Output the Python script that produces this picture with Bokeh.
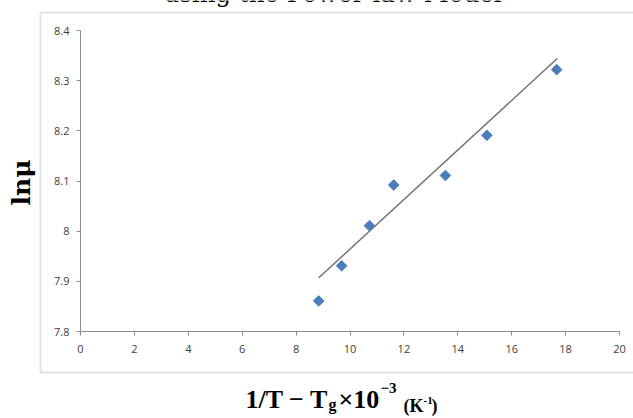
from bokeh.plotting import figure
from bokeh.models import Label, BoxAnnotation, FixedTicker, Range1d, LinearAxis
from bokeh.embed import file_html
from bokeh.resources import INLINE

# ---- data ----
x_vals = [8.84, 9.69, 10.72, 11.62, 13.54, 15.08, 17.67]
y_vals = [7.861, 7.931, 8.011, 8.092, 8.111, 8.191, 8.322]
trend_x = [8.84, 17.69]
trend_y = [7.907, 8.344]
x_ticks = [0, 2, 4, 6, 8, 10, 12, 14, 16, 18, 20]
y_ticks = [7.8, 7.9, 8.0, 8.1, 8.2, 8.3, 8.4]
y_tick_labels = ["7.8", "7.9", "8", "8.1", "8.2", "8.3", "8.4"]
title_text = "using the Power-law Model"
y_title = "lnμ"

# ---- layout (screen pixels of the axis box) ----
W, H = 633, 418
SX0, SX1 = 80, 619      # screen x of x=0 and x=20
SY1, SY0 = 30, 331      # screen y of y=8.4 and y=7.8
x0, x1 = 0, 20
y0, y1 = 7.8, 8.4
kx = (x1 - x0) / (SX1 - SX0)
ky = (y1 - y0) / (SY0 - SY1)
xr = Range1d(x0 - SX0 * kx, x1 + (W - SX1) * kx)
yr = Range1d(y0 - (H - SY0) * ky, y1 + SY1 * ky)

p = figure(width=W, height=H, output_backend="svg", toolbar_location=None,
           x_range=xr, y_range=yr, x_axis_location=None, y_axis_location=None,
           min_border=0, min_border_left=0, min_border_right=0,
           min_border_top=0, min_border_bottom=0,
           background_fill_color="white", border_fill_color="white")
p.outline_line_color = None
p.grid.visible = False

AX = "#8c8c8c"
xax = LinearAxis(fixed_location=y0, bounds=(x0, x1), ticker=FixedTicker(ticks=x_ticks))
yax = LinearAxis(fixed_location=x0, bounds=(y0, y1), ticker=FixedTicker(ticks=y_ticks))
yax.major_label_overrides = {t: l for t, l in zip(y_ticks, y_tick_labels)}
for ax in (xax, yax):
    ax.axis_line_color = AX
    ax.major_tick_line_color = AX
    ax.minor_tick_line_color = None
    ax.major_tick_in = 0
    ax.major_tick_out = 4
    ax.major_label_text_font = "Open Sans"
    ax.major_label_text_font_size = "11px"
    ax.major_label_text_color = "#404040"
xax.major_label_standoff = 9
yax.major_label_standoff = 7
p.add_layout(xax, "below")
p.add_layout(yax, "left")

# trend line and points
p.line(trend_x, trend_y, line_color="#6e6e6e", line_width=1.4)
p.scatter(x_vals, y_vals, marker="square", angle=0.785398, size=7.5,
          fill_color="#4a7ebb", line_color="#4a7ebb")


def dx(sx):
    return x0 + (sx - SX0) * kx


def dy(sy):
    return y0 + (SY0 - sy) * ky


# outer border box
p.add_layout(BoxAnnotation(left=dx(40), right=dx(W + 10), top=dy(12), bottom=dy(372),
                           fill_alpha=0, fill_color=None,
                           line_color="#a0a0a0", line_width=2))


def screen_label(text, sx, sy, **kw):
    return Label(x=dx(sx), y=dy(sy), text=text, **kw)


p.add_layout(screen_label(title_text, 332, -7, text_font="DejaVu Serif",
                          text_font_size="24.5px", text_align="center",
                          text_baseline="alphabetic", text_color="black"))

p.add_layout(screen_label(y_title, 21, 182, text_font="DejaVu Serif",
                          text_font_size="25px", text_font_style="bold",
                          text_align="center", text_baseline="middle",
                          angle=1.5708, text_color="black"))

serif = "Liberation Serif"
pieces = [
    ("1/T − T", 245, 399, 26),
    ("g", 328, 404, 16),
    ("×10", 338, 399, 26),
    ("−3", 380, 387, 15),
    ("(K", 403, 405, 18),
    ("-1", 423, 400, 11),
    (")", 431, 405, 18),
]
for txt, sx, sy, fs in pieces:
    p.add_layout(screen_label(txt, sx, sy, text_font=serif, text_font_size=f"{fs}px",
                              text_font_style="bold", text_align="left",
                              text_baseline="alphabetic", text_color="black"))

open("out.html", "w").write(file_html(p, INLINE))
